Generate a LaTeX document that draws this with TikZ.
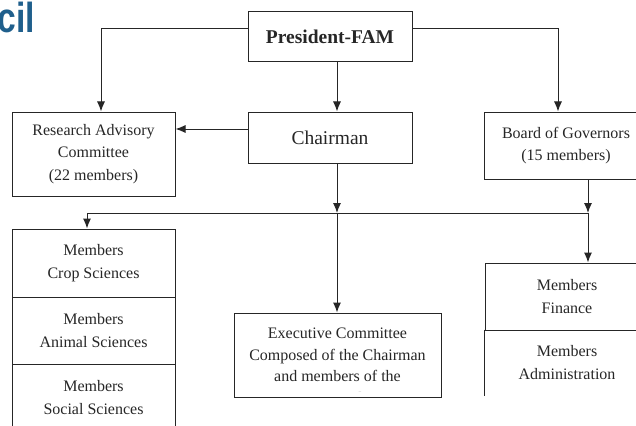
\documentclass[tikz,border=0pt]{standalone}
\usepackage{fontspec}
\setmainfont{Liberation Serif}
\newfontfamily\headsans{Liberation Sans}
\usetikzlibrary{arrows.meta}
\definecolor{ink}{HTML}{262626}
\definecolor{titleblue}{HTML}{1F5F8C}
\begin{document}
\begin{tikzpicture}[x=1pt,y=-1pt,
  box/.style={draw=ink, line width=1pt, inner sep=0pt, align=center, text=ink,
              font=\fontsize{16}{22.5}\selectfont},
  label/.style={inner sep=0pt, align=center, text=ink, font=\fontsize{16}{21.5}\selectfont},
  link/.style={draw=ink, line width=1pt},
  arr/.style={link, -{Latex[length=10pt,width=8pt]}}]
\clip (0,0) rectangle (636,425);

% heading fragment
\node[anchor=base east, inner sep=0pt, text=titleblue, xscale=0.8,
      font=\headsans\bfseries\fontsize{42}{42}\selectfont] (head) at (35,33) {cil};

% top levels
\node[box, minimum width=164pt, minimum height=50pt,
      font=\bfseries\fontsize{19.5}{22}\selectfont] (pres) at (330,37) {President-FAM};
\node[box, minimum width=164pt, minimum height=51pt,
      font=\fontsize{19.5}{22}\selectfont] (chair) at (330,137.5) {Chairman};
\node[box, minimum width=163pt, minimum height=84pt] (rac) at (93.5,154)
      {Research Advisory\\Committee\\(22 members)};
\node[box, minimum width=164pt, minimum height=67pt] (board) at (566,145.5)
      {Board of Governors\\(15 members)};

% left member stack
\node[box, minimum width=163pt, minimum height=68pt] (crop) at (93.5,263) {Members\\Crop Sciences};
\node[box, minimum width=163pt, minimum height=67pt] (animal) at (93.5,330.5) {Members\\Animal Sciences};
\node[box, minimum width=163pt, minimum height=67pt] (social) at (93.5,397.5) {Members\\Social Sciences};

% right member stack
\node[box, minimum width=164pt, minimum height=67pt] (finance) at (567,296.5) {Members\\Finance};
\node[box, draw=none, minimum width=164pt, minimum height=65pt] (admin) at (567,362.5) {Members\\Administration};
\draw[link] (admin.north west) -- (admin.south west);

% executive committee
\node[box, minimum width=207pt, minimum height=84pt] (exec) at (337.5,355) {};
\begin{scope}
  \clip (234,313) rectangle (441,391.5);
  \node[label] (exectext) at (337.5,366)
    {Executive Committee\\Composed of the Chairman\\and members of the\\Council};
\end{scope}

% distribution bus
\coordinate (busL) at (87,213);
\coordinate (busC) at (337,213);
\coordinate (busR) at (588,213);
\draw[link] (busL) -- (busR);

% connectors
\draw[arr] ([yshift=8pt]pres.west) -| ([xshift=7.5pt]rac.north);
\draw[arr] ([yshift=8pt]pres.east) -| ([xshift=-8pt]board.north);
\draw[arr] ([xshift=7pt]pres.south) -- ([xshift=7pt]chair.north);
\draw[arr] ([yshift=8.5pt]chair.west) -- ([yshift=25pt]rac.east);
\draw[arr] ([xshift=7pt]chair.south) -- (busC);
\draw[arr] (busC) -- ([xshift=-0.5pt]exec.north);
\draw[arr] ([xshift=22pt]board.south) -- (busR);
\draw[arr] (busR) -- ([xshift=21pt]finance.north);
\draw[arr] (busL) -- ([xshift=-6.5pt]crop.north);
\end{tikzpicture}
\end{document}
